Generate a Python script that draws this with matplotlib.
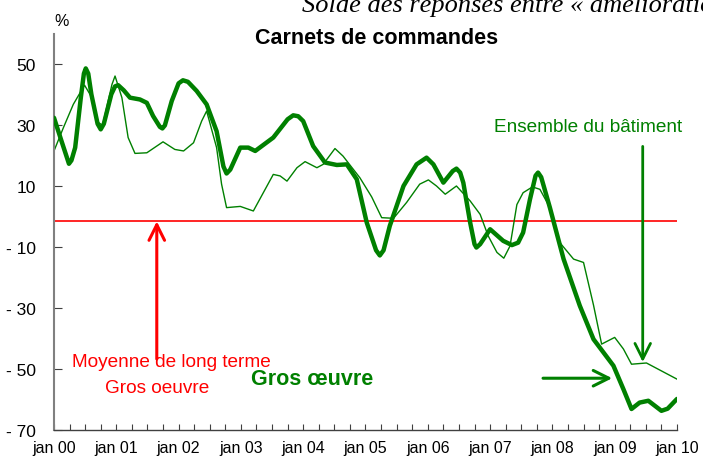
import matplotlib
matplotlib.use("Agg")
import matplotlib.pyplot as plt
from matplotlib.ticker import FixedLocator, FuncFormatter

plt.rcParams["font.family"] = ["Liberation Sans", "DejaVu Sans"]

# Gros oeuvre (thick line)
gros_t = [2000.00, 2000.12, 2000.24, 2000.28, 2000.34, 2000.43, 2000.48, 2000.51, 2000.55,
          2000.60, 2000.70, 2000.75, 2000.80, 2000.92, 2000.98, 2001.03, 2001.12, 2001.22,
          2001.38, 2001.49, 2001.59, 2001.70, 2001.74, 2001.78, 2001.89, 2002.00, 2002.07,
          2002.15, 2002.29, 2002.45, 2002.61, 2002.72, 2002.77, 2002.83, 2002.99, 2003.12,
          2003.23, 2003.52, 2003.75, 2003.84, 2003.92, 2004.00, 2004.16, 2004.35, 2004.54,
          2004.70, 2004.86, 2005.02, 2005.17, 2005.23, 2005.29, 2005.39, 2005.61, 2005.82,
          2005.98, 2006.09, 2006.25, 2006.40, 2006.46, 2006.52, 2006.57, 2006.68, 2006.75,
          2006.78, 2006.84, 2007.00, 2007.21, 2007.35, 2007.45, 2007.53, 2007.64, 2007.73,
          2007.77, 2007.82, 2007.96, 2008.18, 2008.44, 2008.66, 2008.98, 2009.14, 2009.27,
          2009.40, 2009.54, 2009.75, 2009.85, 2010.00]
gros_v = [32.5, 24.9, 17.4, 18.5, 22.7, 39.0, 47.0, 48.7, 47.0,
          40.2, 30.5, 28.7, 30.5, 40.2, 42.8, 43.2, 41.5, 39.1,
          38.5, 37.4, 33.1, 29.5, 29.0, 30.0, 38.0, 43.8, 44.8,
          44.3, 41.3, 36.9, 28.1, 16.5, 14.2, 15.5, 22.7, 22.7,
          21.6, 26.0, 32.0, 33.3, 33.0, 31.4, 23.2, 17.8, 17.0,
          17.2, 12.3, -1.9, -11.0, -12.7, -11.0, -3.0, 10.1, 17.2,
          19.4, 17.2, 11.2, 15.0, 15.8, 14.5, 11.2, -1.9, -9.0,
          -10.1, -9.0, -4.1, -7.9, -9.3, -8.5, -5.2, 5.7, 13.5,
          14.5, 13.0, 3.0, -13.9, -29.2, -40.2, -48.9, -56.6, -63.1,
          -61.0, -60.4, -63.7, -63.0, -59.8]

# Ensemble du batiment (thin line)
ens_t = [2000.00, 2000.15, 2000.31, 2000.49, 2000.61, 2000.71, 2000.78, 2000.93,
         2000.98, 2001.09, 2001.19, 2001.30, 2001.49, 2001.75, 2001.94, 2002.08,
         2002.24, 2002.37, 2002.45, 2002.61, 2002.69, 2002.77, 2002.99, 2003.20,
         2003.36, 2003.52, 2003.63, 2003.74, 2003.90, 2004.03, 2004.22, 2004.32,
         2004.51, 2004.64, 2004.91, 2005.10, 2005.26, 2005.45, 2005.66, 2005.87,
         2006.01, 2006.14, 2006.28, 2006.46, 2006.68, 2006.84, 2006.97, 2007.11,
         2007.22, 2007.32, 2007.43, 2007.53, 2007.68, 2007.80, 2007.96, 2008.12,
         2008.34, 2008.50, 2008.66, 2008.79, 2009.00, 2009.14, 2009.27, 2009.51,
         2010.00]
ens_v = [21.6, 29.2, 36.9, 43.2, 39.1, 31.0, 30.0, 43.4,
         46.2, 39.1, 26.0, 20.8, 21.0, 24.6, 22.1, 21.6,
         24.3, 31.4, 34.7, 22.7, 10.7, 3.0, 3.4, 1.9,
         7.9, 13.9, 13.4, 11.7, 16.1, 18.1, 16.1, 17.2,
         22.4, 19.9, 12.8, 6.5, -0.3, -0.5, 4.7, 10.7,
         12.1, 10.1, 7.4, 10.1, 5.2, 0.8, -6.3, -11.7,
         -13.6, -9.6, 4.0, 7.9, 9.8, 9.0, 3.0, -8.5,
         -13.9, -15.0, -29.0, -41.8, -39.6, -43.4, -48.4, -48.0,
         -53.3]

long_term_mean = -1.5

year_ticks = list(range(2000, 2011))
year_labels = [f"jan {y % 100:02d}" for y in year_ticks]
y_ticks = [-70, -50, -30, -10, 10, 30, 50]

green = "#008000"
red = "#ff0000"

fig = plt.figure(figsize=(7.03, 4.64), dpi=100)
ax = fig.add_axes([0.0768, 0.0711, 0.8862, 0.8535])

ax.axhline(long_term_mean, color=red, lw=1.2, zorder=1)
ax.plot(ens_t, ens_v, color=green, lw=1.0, solid_joinstyle="round", zorder=2)
ax.plot(gros_t, gros_v, color=green, lw=3.2, solid_joinstyle="round",
        solid_capstyle="round", zorder=3)

ax.set_xlim(2000, 2010)
ax.set_ylim(-70, 60)

ax.xaxis.set_major_locator(FixedLocator(year_ticks))
ax.set_xticklabels(year_labels)
ax.xaxis.set_minor_locator(FixedLocator([2000 + q / 4 for q in range(41)]))
ax.yaxis.set_major_locator(FixedLocator(y_ticks))
ax.yaxis.set_major_formatter(FuncFormatter(lambda v, p: f"- {abs(int(v))}" if v < 0 else f"{int(v)}"))

ax.tick_params(axis="x", which="both", direction="in", length=4, width=0.8,
               colors="#404040", labelcolor="black", labelsize=11.5, pad=7)
ax.tick_params(axis="y", direction="in", length=6, width=0.8,
               colors="#404040", labelcolor="black", labelsize=12.5, pad=13)

for s in ["top", "right"]:
    ax.spines[s].set_visible(False)
ax.spines["left"].set_color("#808080")
ax.spines["left"].set_linewidth(1.5)
ax.spines["bottom"].set_color("#404040")
ax.spines["bottom"].set_linewidth(1.0)

# headings
fig.text(377 / 703, 1 - 38 / 464, "Carnets de commandes", ha="center", va="center",
         fontsize=15.5, fontweight="bold")
fig.text(62 / 703, 1 - 22 / 464, "%", ha="center", va="center", fontsize=11.5)
fig.text(302 / 703, 1 - 12 / 464,
         "Solde des réponses entre « amélioration » et « détérioration »",
         ha="left", va="baseline", fontsize=19, style="italic",
         family=["Liberation Serif", "DejaVu Serif"])

# red annotation
ax.annotate("", xy=(2001.65, long_term_mean), xytext=(2001.65, -46.7),
            arrowprops=dict(arrowstyle="->", color=red, lw=2.2, mutation_scale=28,
                            shrinkA=0, shrinkB=0))
ax.text(2001.88, -47.5, "Moyenne de long terme", color=red, ha="center",
        va="center", fontsize=13.7)
ax.text(2001.65, -56.0, "Gros oeuvre", color=red, ha="center", va="center",
        fontsize=13.7)

# green annotations
ax.annotate("", xy=(2009.45, -47.7), xytext=(2009.45, 23.1),
            arrowprops=dict(arrowstyle="->", color=green, lw=2.0, mutation_scale=28,
                            shrinkA=0, shrinkB=0))
ax.text(2008.57, 29.5, "Ensemble du bâtiment", color=green, ha="center",
        va="center", fontsize=13.7)
ax.annotate("", xy=(2008.96, -53.0), xytext=(2007.85, -53.0),
            arrowprops=dict(arrowstyle="->", color=green, lw=2.2, mutation_scale=28,
                            shrinkA=0, shrinkB=0))
ax.text(2004.14, -53.0, "Gros œuvre", color=green, ha="center", va="center",
        fontsize=15.5, fontweight="bold")

fig.savefig("out.png", dpi=100)
